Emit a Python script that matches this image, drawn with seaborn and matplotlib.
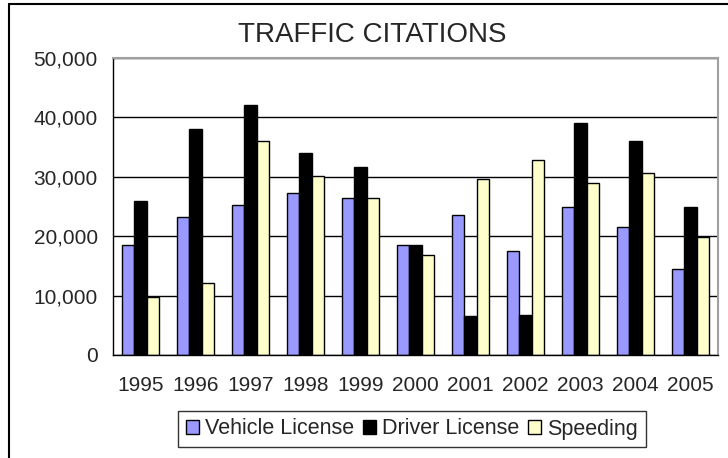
import pandas as pd
import matplotlib.pyplot as plt
import seaborn as sns
from matplotlib.lines import Line2D
from matplotlib.ticker import FuncFormatter, FixedLocator

years = ["1995", "1996", "1997", "1998", "1999", "2000", "2001", "2002", "2003", "2004", "2005"]
vehicle_license = [18500, 23200, 25200, 27200, 26500, 18500, 23500, 17500, 24900, 21600, 14500]
driver_license = [26000, 38100, 42100, 34000, 31700, 18500, 6500, 6800, 39100, 36100, 24900]
speeding = [9750, 12200, 36000, 30200, 26500, 16900, 29600, 32900, 28900, 30600, 19900]
series_names = ["Vehicle License", "Driver License", "Speeding"]
colors = ["#9999FF", "#000000", "#FFFFCC"]

df = pd.DataFrame({
    "year": years * 3,
    "citations": vehicle_license + driver_license + speeding,
    "type": [series_names[0]] * 11 + [series_names[1]] * 11 + [series_names[2]] * 11,
})

sns.set_style("white")
plt.rcParams["font.family"] = ["Liberation Sans", "DejaVu Sans"]

fig = plt.figure(figsize=(7.28, 4.58), dpi=100)
ax = fig.add_axes([113 / 728, 103 / 458, 605 / 728, 297 / 458])

sns.barplot(
    data=df, x="year", y="citations", hue="type", palette=colors,
    width=0.66, edgecolor="black", linewidth=1.0, saturation=1, ax=ax,
)

ax.set_ylim(0, 50000)
ax.set_xlim(-0.5, 10.5)
ax.set_yticks(range(0, 50001, 10000))
ax.yaxis.set_major_formatter(FuncFormatter(lambda v, p: f"{int(v):,}"))
ax.grid(axis="y", color="black", linewidth=1.0)
ax.set_axisbelow(True)
ax.set_xlabel("")
ax.set_ylabel("")

# Excel-style tick marks between categories
ax.xaxis.set_minor_locator(FixedLocator([i - 0.5 for i in range(12)]))
ax.tick_params(axis="x", which="major", length=0, labelsize=15, pad=15)
ax.tick_params(axis="x", which="minor", length=5, width=1, color="black", direction="out")
ax.tick_params(axis="y", length=5, width=1, color="black", direction="out", labelsize=15, pad=6)

for side in ["left", "bottom"]:
    ax.spines[side].set_color("black")
    ax.spines[side].set_linewidth(1.0)
for side in ["top", "right"]:
    ax.spines[side].set_visible(True)
    ax.spines[side].set_color("#A0A0A0")
    ax.spines[side].set_linewidth(1.5)

fig.text(372 / 728, 1 - 42 / 458, "TRAFFIC CITATIONS", ha="center", va="baseline", fontsize=20)

ax.legend(
    loc="center", bbox_to_anchor=(412 / 728, 1 - 429 / 458), bbox_transform=fig.transFigure,
    ncol=3, frameon=True, fancybox=False, edgecolor="black", fontsize=15.5,
    handlelength=0.6, handleheight=0.6, handletextpad=0.3, columnspacing=0.4,
    borderpad=0.35, borderaxespad=0,
)
leg = ax.get_legend()
leg.get_frame().set_linewidth(1.0)

# outer chart border (only left and top edges fall inside the image)
fig.add_artist(Line2D([9 / 728, 9 / 728], [0, 1 - 4 / 458], transform=fig.transFigure,
                      color="black", linewidth=1.5))
fig.add_artist(Line2D([9 / 728, 1], [1 - 4 / 458, 1 - 4 / 458], transform=fig.transFigure,
                      color="black", linewidth=1.5))

fig.savefig("out.png", dpi=100)
